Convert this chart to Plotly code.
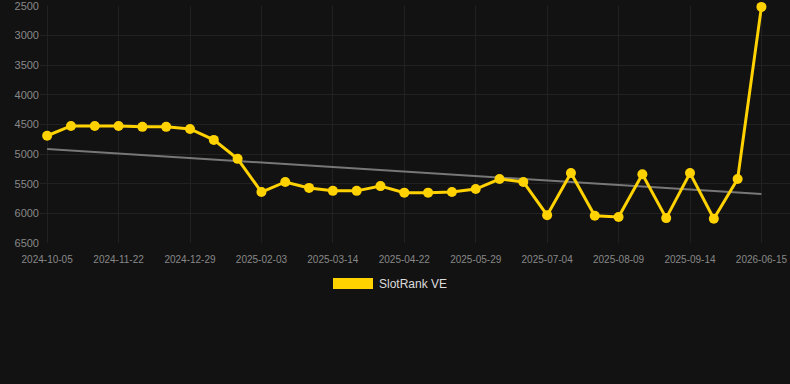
import plotly.graph_objects as go

dates = [
    "2024-10-05", "2024-10-21", "2024-11-06", "2024-11-22", "2024-12-04", "2024-12-17",
    "2024-12-29", "2025-01-10", "2025-01-22", "2025-02-03", "2025-02-16", "2025-03-01",
    "2025-03-14", "2025-03-27", "2025-04-09", "2025-04-22", "2025-05-04", "2025-05-17",
    "2025-05-29", "2025-06-10", "2025-06-22", "2025-07-04", "2025-07-16", "2025-07-28",
    "2025-08-09", "2025-08-21", "2025-09-02", "2025-09-14", "2025-09-26", "2025-10-08",
    "2026-06-15",
]
rank = [
    4690, 4525, 4525, 4525, 4540, 4540, 4575, 4760, 5080, 5640, 5470, 5570,
    5620, 5620, 5540, 5650, 5650, 5640, 5590, 5420, 5470, 6030, 5320, 6040,
    6060, 5340, 6080, 5320, 6090, 5420, 2515,
]
trend_dates = [dates[0], dates[-1]]
trend_values = [4915, 5673]
tick_labels = dates[::3]
y_ticks = [2500, 3000, 3500, 4000, 4500, 5000, 5500, 6000, 6500]

BG = "#121212"
YELLOW = "#FFD200"
GRID = "#212121"
FONT = "Liberation Sans, Arial, sans-serif"

fig = go.Figure()
fig.add_trace(go.Scatter(
    x=trend_dates, y=trend_values, mode="lines",
    line=dict(color="#777777", width=2), showlegend=False, hoverinfo="skip",
))
fig.add_trace(go.Scatter(
    x=dates, y=rank, mode="lines+markers", name="SlotRank VE",
    line=dict(color=YELLOW, width=3),
    marker=dict(color=YELLOW, size=10),
    showlegend=False, cliponaxis=False,
))

fig.update_layout(
    width=790, height=384,
    margin=dict(l=40, r=0, t=6, b=141),
    paper_bgcolor=BG, plot_bgcolor=BG,
    font=dict(family=FONT, color="#888888", size=11),
    xaxis=dict(
        type="category", categoryorder="array", categoryarray=dates,
        range=[-0.3, 31.2],
        tickmode="array", tickvals=tick_labels, ticktext=tick_labels,
        tickfont=dict(size=10, color="#888888"),
        showgrid=True, gridcolor=GRID, gridwidth=1,
        zeroline=False, showline=False,
        ticks="outside", ticklen=7, tickcolor=BG,
    ),
    yaxis=dict(
        range=[6500, 2500], tickvals=y_ticks,
        tickfont=dict(size=11, color="#888888"),
        showgrid=True, gridcolor=GRID, gridwidth=1,
        zeroline=False, showline=False, ticks="",
        ticklabeloverflow="allow",
    ),
    shapes=[dict(
        type="rect", xref="paper", yref="paper",
        x0=(333 - 40) / 750, x1=(373 - 40) / 750,
        y0=(243 - 289) / 237, y1=(243 - 278) / 237,
        fillcolor=YELLOW, line=dict(width=0),
    )],
    annotations=[dict(
        text="SlotRank VE", xref="paper", yref="paper",
        x=(377 - 40) / 750, y=(243 - 284) / 237,
        xanchor="left", yanchor="middle", showarrow=False,
        font=dict(size=12, color="#dddddd", family=FONT),
    )],
)

fig.write_html("out.html")
